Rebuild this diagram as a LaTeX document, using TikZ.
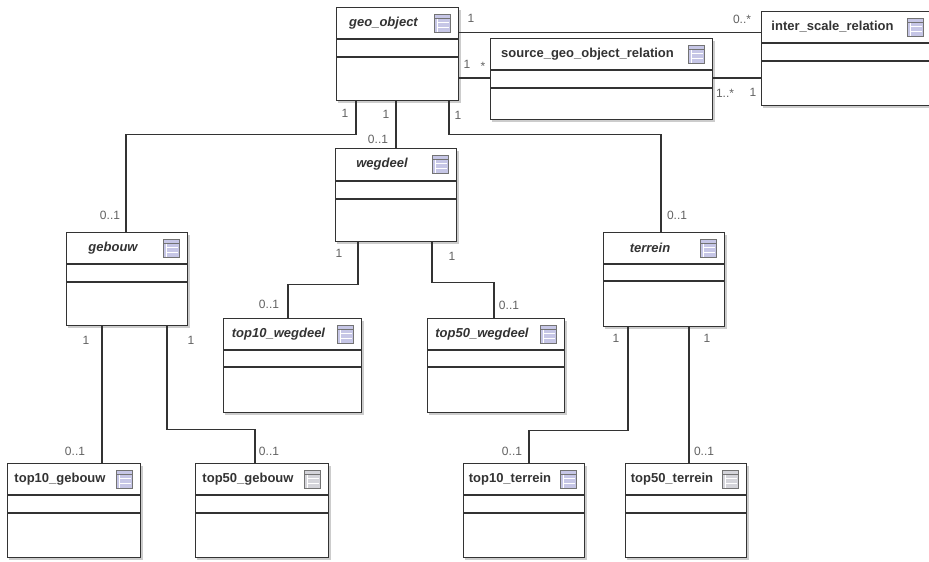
\documentclass[tikz,border=0pt]{standalone}
\usepackage{fontspec}
\setmainfont{Liberation Sans}
\usetikzlibrary{calc}
\definecolor{ink}{HTML}{333333}
\definecolor{iconblue}{HTML}{C6C6E6}
\definecolor{icongrey}{HTML}{D4D4DA}
\colorlet{iconfill}{iconblue}
\tikzset{
  x=1pt,y=-1pt,
  classbox/.style={draw=ink,fill=white,line width=1.3pt,rectangle,inner sep=0pt,anchor=north west},
  shade/.style={draw=black!40,line width=2.4pt,opacity=.5},
  divider/.style={draw=ink,line width=1.1pt},
  title/.style={font=\bfseries\fontsize{13}{15}\selectfont,text=ink,inner sep=0pt},
  abstract/.style={title,font=\bfseries\itshape\fontsize{13}{15}\selectfont},
  icon/.style={draw=black!55,fill=iconfill,line width=.8pt,minimum width=16pt,minimum height=18pt,inner sep=0pt,rectangle},
  link/.style={draw=ink,line width=1.2pt},
  mult/.style={font=\fontsize{12}{14}\selectfont,text=black!62,inner sep=0pt},
}
% name, x1, y1, x2, y2, first divider, second divider, title style, title
\newcommand{\umlclass}[9]{%
  \draw[shade] (#2+2,#5+2) -- (#4+2,#5+2) -- (#4+2,#3+3);
  \node[classbox,minimum width=#4-#2,minimum height=#5-#3] (#1) at (#2,#3) {};
  \draw[divider] (#2,#6) -- (#4,#6) (#2,#7) -- (#4,#7);
  \node[icon] (#1icon) at (#4-16,#3+16.5) {};
  \draw[black!55,line width=.8pt] (#4-24,#3+11) -- (#4-8,#3+11);
  \draw[white,line width=.7pt] (#4-21,#3+11.5) -- (#4-21,#3+25)
     (#4-21,#3+15.5) -- (#4-9,#3+15.5) (#4-21,#3+20) -- (#4-9,#3+20);
  \node[#8] (#1title) at ({(#2+#4-27)/2},#3+16) {#9};
}
\begin{document}
\begin{tikzpicture}
\useasboundingbox (0,0) rectangle (929,562);
\umlclass{geo}{336}{7}{458}{100}{39}{57}{abstract}{geo\_object}
\umlclass{source}{490}{38}{712}{119}{70}{88}{title}{source\_geo\_object\_relation}
\umlclass{inter}{761}{11}{931}{105}{43}{61}{title}{inter\_scale\_relation}
\umlclass{wegdeel}{335}{148}{456}{241}{181}{199}{abstract}{wegdeel}
\umlclass{gebouw}{66}{232}{187}{325}{264}{282}{abstract}{gebouw}
\umlclass{terrein}{603}{232}{724}{326}{264}{281}{abstract}{terrein}
\umlclass{tenw}{223}{318}{361}{412}{350}{367}{abstract}{top10\_wegdeel}
\umlclass{fiftyw}{427}{318}{564}{412}{350}{367}{abstract}{top50\_wegdeel}
\umlclass{teng}{7}{463}{140}{557}{495}{513}{title}{top10\_gebouw}
\colorlet{iconfill}{icongrey}
\umlclass{fiftyg}{195}{463}{328}{557}{495}{513}{title}{top50\_gebouw}
\colorlet{iconfill}{iconblue}
\umlclass{tent}{463}{463}{584}{557}{495}{513}{title}{top10\_terrein}
\colorlet{iconfill}{icongrey}
\umlclass{fiftyt}{625}{463}{746}{557}{495}{513}{title}{top50\_terrein}

% connectors
\draw[link] ($(geo.north east)+(0,25.5)$) -- ($(inter.north west)+(0,21.5)$);
\draw[link] ($(geo.north east)+(0,71)$) -- ($(source.north west)+(0,40)$);
\draw[link] ($(source.north east)+(0,40)$) -- ($(inter.north west)+(0,67)$);
\draw[link] ($(geo.south west)+(20,0)$) -- ++(0,33) -| ($(gebouw.north west)+(60,0)$);
\draw[link] ($(geo.south west)+(60,0)$) -- ($(wegdeel.north west)+(61,0)$);
\draw[link] ($(geo.south west)+(113,0)$) -- ++(0,33) -| ($(terrein.north west)+(58,0)$);
\draw[link] ($(gebouw.south west)+(36,0)$) -- ($(teng.north west)+(95,0)$);
\draw[link] ($(gebouw.south west)+(101,0)$) -- ++(0,103) -| ($(fiftyg.north west)+(60,0)$);
\draw[link] ($(wegdeel.south west)+(23,0)$) -- ++(0,42) -| ($(tenw.north west)+(65,0)$);
\draw[link] ($(wegdeel.south west)+(97,0)$) -- ++(0,40) -| ($(fiftyw.north west)+(67,0)$);
\draw[link] ($(terrein.south west)+(25,0)$) -- ++(0,103) -| ($(tent.north west)+(66,0)$);
\draw[link] ($(terrein.south west)+(86,0)$) -- ($(fiftyt.north west)+(64,0)$);

% multiplicities
\node[mult] (m1) at (471,18) {1};
\node[mult] (m2) at (742,19) {0..*};
\node[mult] (m3) at (467,64) {1};
\node[mult] (m4) at (483,66) {*};
\node[mult] (m5) at (725,93) {1..*};
\node[mult] (m6) at (753,92) {1};
\node[mult] (m7) at (345,113) {1};
\node[mult] (m8) at (386,114) {1};
\node[mult] (m9) at (378,139) {0..1};
\node[mult] (m10) at (458,115) {1};
\node[mult] (m11) at (110,215) {0..1};
\node[mult] (m12) at (677,215) {0..1};
\node[mult] (m13) at (86,340) {1};
\node[mult] (m14) at (191,340) {1};
\node[mult] (m15) at (75,451) {0..1};
\node[mult] (m16) at (269,451) {0..1};
\node[mult] (m17) at (339,253) {1};
\node[mult] (m18) at (452,256) {1};
\node[mult] (m19) at (269,304) {0..1};
\node[mult] (m20) at (509,305) {0..1};
\node[mult] (m21) at (616,338) {1};
\node[mult] (m22) at (707,338) {1};
\node[mult] (m23) at (512,451) {0..1};
\node[mult] (m24) at (704,451) {0..1};
\end{tikzpicture}
\end{document}
